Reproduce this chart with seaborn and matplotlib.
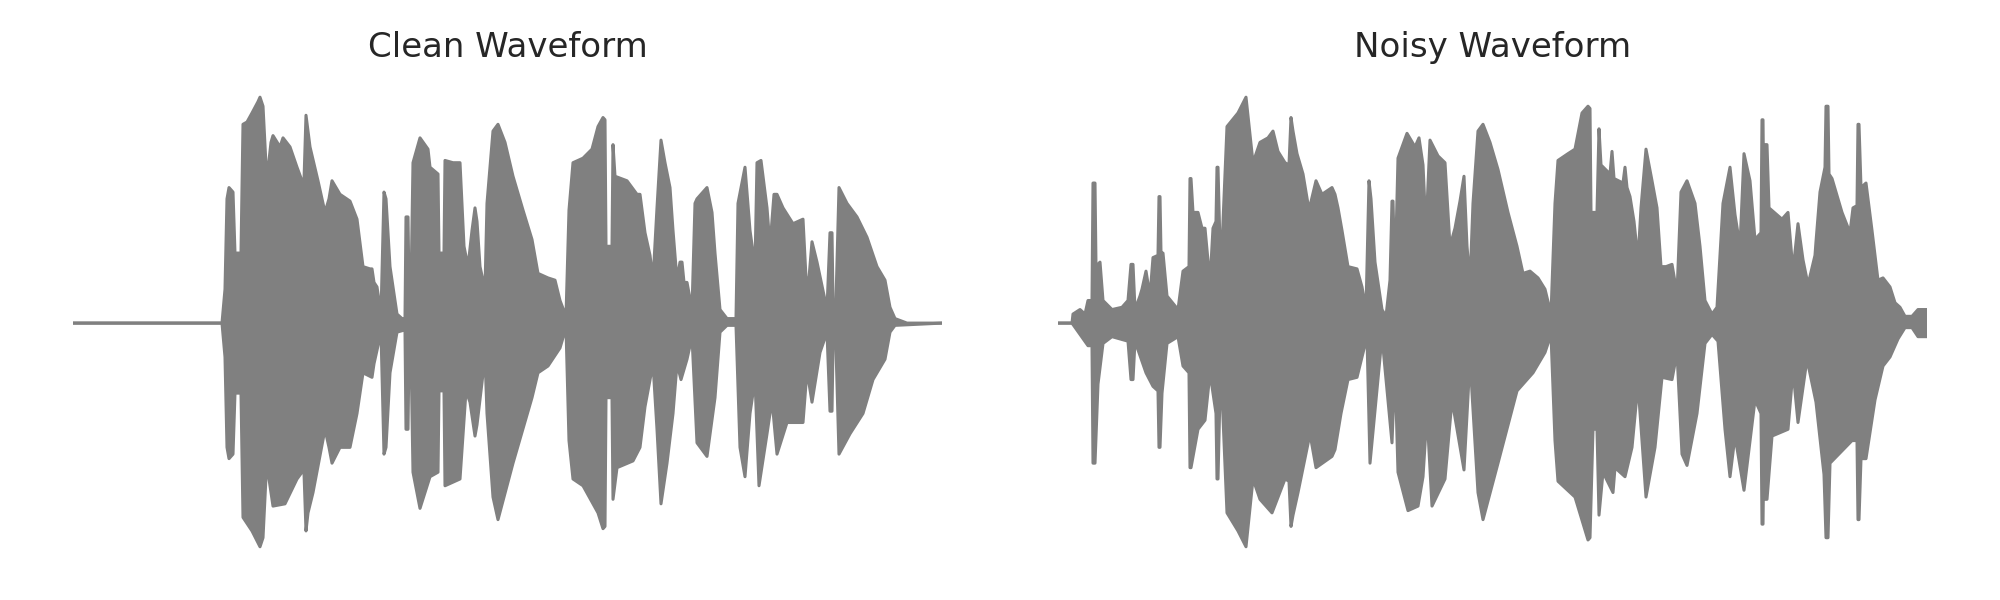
import numpy as np
import pandas as pd
import matplotlib
matplotlib.use("Agg")
import matplotlib.pyplot as plt
import seaborn as sns

# envelope of each waveform: (frame, amplitude)
clean_upper = [
    (0, 0.0), (149, 0.0), (152, 0.15), (154, 0.55), (156, 0.60), (160, 0.58), (162, 0.31),
    (168, 0.31), (170, 0.88), (174, 0.89), (179, 0.93), (185, 0.98), (187, 1.0), (190, 0.96),
    (193, 0.70), (195, 0.68), (198, 0.80), (200, 0.83), (207, 0.78), (210, 0.82), (217, 0.78),
    (224, 0.69), (229, 0.63), (231, 0.63), (233, 0.92), (235, 0.85), (237, 0.78), (245, 0.63),
    (252, 0.49), (256, 0.55), (259, 0.63), (267, 0.57), (277, 0.54), (284, 0.46), (290, 0.25),
    (297, 0.24), (299, 0.24), (301, 0.18), (304, 0.16), (308, 0.04), (311, 0.58), (313, 0.55),
    (317, 0.25), (324, 0.04), (329, 0.02), (332, 0.02), (333, 0.47), (335, 0.47), (336, 0.15),
    (338, 0.15), (340, 0.71), (347, 0.82), (355, 0.77), (357, 0.69), (365, 0.66), (366, 0.31),
    (371, 0.31), (372, 0.72), (380, 0.71), (387, 0.71), (391, 0.34), (395, 0.25), (399, 0.41),
    (402, 0.51), (404, 0.45), (407, 0.25), (412, 0.15), (414, 0.53), (420, 0.85), (425, 0.88),
    (432, 0.80), (440, 0.65), (450, 0.50), (459, 0.37), (465, 0.22), (475, 0.20), (482, 0.19),
    (487, 0.10), (493, 0.03), (496, 0.50), (500, 0.71), (510, 0.73), (519, 0.77), (525, 0.87),
    (530, 0.91), (532, 0.90), (533, 0.34), (539, 0.34), (540, 0.79), (542, 0.65), (554, 0.63),
    (564, 0.57), (567, 0.57), (572, 0.40), (577, 0.30), (580, 0.19), (584, 0.51), (588, 0.81),
    (592, 0.71), (597, 0.60), (600, 0.41), (604, 0.19), (607, 0.27), (609, 0.27), (611, 0.18),
    (614, 0.18), (619, 0.06), (622, 0.53), (624, 0.55), (634, 0.60), (639, 0.49), (642, 0.31),
    (647, 0.06), (654, 0.02), (663, 0.02), (665, 0.53), (672, 0.69), (677, 0.41), (682, 0.25),
    (684, 0.71), (688, 0.72), (694, 0.51), (697, 0.34), (701, 0.57), (704, 0.57), (710, 0.51),
    (720, 0.44), (730, 0.46), (733, 0.20), (736, 0.20), (739, 0.36), (744, 0.27), (754, 0.06),
    (757, 0.40), (759, 0.40), (760, 0.10), (763, 0.10), (766, 0.60), (774, 0.53), (784, 0.47),
    (794, 0.38), (804, 0.25), (812, 0.19), (817, 0.07), (822, 0.02), (834, 0.0), (869, 0.0),
]
clean_lower = [
    (0, 0.0), (149, 0.0), (152, -0.15), (154, -0.55), (156, -0.60), (160, -0.58), (162, -0.31),
    (168, -0.31), (170, -0.86), (179, -0.92), (187, -0.99), (190, -0.95), (193, -0.68),
    (195, -0.66), (200, -0.81), (212, -0.80), (224, -0.69), (229, -0.66), (231, -0.66),
    (233, -0.92), (235, -0.84), (240, -0.75), (252, -0.47), (256, -0.55), (259, -0.62),
    (267, -0.55), (277, -0.55), (284, -0.40), (290, -0.22), (299, -0.24), (301, -0.18),
    (308, -0.04), (311, -0.58), (313, -0.55), (317, -0.22), (324, -0.04), (332, -0.03),
    (333, -0.47), (335, -0.47), (336, -0.13), (338, -0.13), (340, -0.66), (347, -0.82),
    (357, -0.68), (365, -0.66), (366, -0.30), (371, -0.30), (372, -0.72), (387, -0.69),
    (393, -0.30), (397, -0.35), (402, -0.50), (404, -0.45), (412, -0.15), (414, -0.40),
    (420, -0.77), (425, -0.87), (440, -0.62), (459, -0.33), (465, -0.22), (475, -0.19),
    (487, -0.11), (493, -0.02), (496, -0.52), (500, -0.69), (510, -0.72), (525, -0.84),
    (530, -0.91), (532, -0.90), (533, -0.33), (539, -0.33), (540, -0.78), (544, -0.64),
    (560, -0.61), (567, -0.55), (572, -0.37), (580, -0.18), (584, -0.47), (588, -0.80),
    (594, -0.62), (600, -0.40), (604, -0.18), (608, -0.25), (614, -0.16), (619, -0.06),
    (624, -0.53), (634, -0.59), (642, -0.33), (647, -0.04), (654, -0.01), (663, -0.01),
    (667, -0.55), (672, -0.68), (677, -0.40), (682, -0.25), (686, -0.72), (694, -0.49),
    (699, -0.34), (704, -0.58), (714, -0.44), (730, -0.44), (734, -0.21), (739, -0.35),
    (747, -0.13), (754, -0.04), (757, -0.39), (759, -0.39), (760, -0.11), (763, -0.11),
    (766, -0.58), (777, -0.49), (790, -0.40), (800, -0.25), (812, -0.16), (817, -0.04),
    (822, -0.01), (869, 0.0),
]
noisy_upper = [
    (0, 0.0), (14, 0.0), (15, 0.04), (22, 0.06), (27, 0.04), (30, 0.10), (34, 0.10), (35, 0.62),
    (37, 0.62), (38, 0.25), (42, 0.27), (45, 0.10), (54, 0.06), (64, 0.07), (70, 0.10),
    (73, 0.26), (75, 0.26), (77, 0.06), (82, 0.12), (84, 0.15), (88, 0.23), (92, 0.12),
    (95, 0.29), (100, 0.30), (101, 0.56), (102, 0.56), (103, 0.31), (105, 0.31), (109, 0.12),
    (120, 0.06), (125, 0.23), (131, 0.25), (132, 0.64), (133, 0.64), (135, 0.49), (140, 0.49),
    (144, 0.42), (147, 0.42), (152, 0.18), (155, 0.42), (158, 0.45), (159, 0.69), (160, 0.69),
    (162, 0.34), (164, 0.34), (169, 0.87), (180, 0.93), (188, 1.0), (195, 0.71), (202, 0.80),
    (210, 0.82), (215, 0.85), (220, 0.76), (227, 0.71), (231, 0.70), (233, 0.91), (235, 0.85),
    (239, 0.75), (245, 0.66), (251, 0.50), (258, 0.63), (264, 0.57), (274, 0.60), (277, 0.57),
    (280, 0.51), (284, 0.41), (290, 0.25), (299, 0.24), (304, 0.16), (308, 0.06), (311, 0.63),
    (313, 0.55), (317, 0.27), (324, 0.06), (328, 0.03), (332, 0.19), (334, 0.54), (335, 0.54),
    (337, 0.19), (340, 0.73), (349, 0.84), (357, 0.78), (361, 0.82), (365, 0.70), (368, 0.41),
    (372, 0.81), (380, 0.74), (387, 0.71), (392, 0.34), (397, 0.42), (402, 0.54), (406, 0.65),
    (409, 0.34), (412, 0.18), (415, 0.53), (420, 0.85), (425, 0.88), (432, 0.80), (440, 0.68),
    (450, 0.49), (459, 0.34), (465, 0.22), (472, 0.23), (480, 0.20), (487, 0.15), (493, 0.04),
    (497, 0.53), (500, 0.72), (510, 0.75), (517, 0.77), (524, 0.93), (530, 0.96), (532, 0.95),
    (533, 0.49), (539, 0.49), (541, 0.86), (543, 0.70), (552, 0.66), (554, 0.76), (556, 0.64),
    (565, 0.62), (567, 0.69), (569, 0.60), (572, 0.56), (576, 0.45), (580, 0.28), (583, 0.51),
    (588, 0.77), (594, 0.63), (599, 0.51), (603, 0.25), (608, 0.25), (614, 0.26), (619, 0.13),
    (623, 0.58), (629, 0.63), (637, 0.53), (642, 0.34), (647, 0.10), (654, 0.04), (659, 0.07),
    (665, 0.53), (672, 0.69), (677, 0.48), (682, 0.34), (686, 0.75), (692, 0.63), (697, 0.37),
    (703, 0.40), (704, 0.90), (705, 0.90), (706, 0.45), (707, 0.79), (709, 0.79), (711, 0.51),
    (724, 0.46), (730, 0.49), (735, 0.23), (740, 0.44), (745, 0.28), (750, 0.17), (757, 0.30),
    (758, 0.36), (762, 0.58), (767, 0.69), (768, 0.96), (770, 0.96), (771, 0.66), (774, 0.64),
    (784, 0.49), (792, 0.40), (795, 0.51), (799, 0.52), (800, 0.88), (801, 0.88), (803, 0.60),
    (808, 0.62), (814, 0.41), (820, 0.19), (825, 0.20), (832, 0.16), (837, 0.09), (842, 0.07),
    (847, 0.03), (854, 0.03), (860, 0.06), (869, 0.06),
]
noisy_lower = [
    (0, 0.0), (14, 0.0), (22, -0.05), (30, -0.10), (34, -0.10), (35, -0.62), (37, -0.62),
    (40, -0.27), (45, -0.09), (54, -0.06), (70, -0.08), (73, -0.25), (75, -0.25), (77, -0.08),
    (88, -0.22), (95, -0.28), (100, -0.30), (101, -0.55), (102, -0.55), (104, -0.31),
    (109, -0.09), (120, -0.06), (125, -0.19), (131, -0.22), (132, -0.64), (133, -0.64),
    (140, -0.47), (147, -0.43), (152, -0.22), (158, -0.40), (159, -0.69), (160, -0.69),
    (162, -0.31), (164, -0.31), (169, -0.84), (180, -0.92), (188, -0.99), (195, -0.69),
    (202, -0.78), (214, -0.84), (227, -0.69), (231, -0.70), (233, -0.90), (235, -0.85),
    (240, -0.75), (252, -0.49), (258, -0.64), (274, -0.59), (277, -0.56), (283, -0.40),
    (290, -0.25), (299, -0.24), (309, -0.06), (312, -0.62), (324, -0.06), (334, -0.53),
    (337, -0.19), (340, -0.66), (350, -0.83), (360, -0.81), (365, -0.68), (369, -0.40),
    (374, -0.81), (387, -0.69), (394, -0.34), (406, -0.65), (412, -0.16), (420, -0.75),
    (425, -0.87), (440, -0.62), (459, -0.30), (475, -0.22), (487, -0.13), (493, -0.05),
    (497, -0.52), (500, -0.70), (517, -0.77), (530, -0.96), (532, -0.95), (535, -0.47),
    (539, -0.47), (541, -0.85), (545, -0.66), (555, -0.75), (557, -0.64), (567, -0.68),
    (574, -0.55), (580, -0.27), (588, -0.77), (597, -0.55), (604, -0.24), (614, -0.25),
    (619, -0.13), (624, -0.58), (629, -0.63), (639, -0.40), (647, -0.09), (654, -0.05),
    (660, -0.08), (667, -0.47), (672, -0.68), (677, -0.50), (686, -0.74), (697, -0.34),
    (703, -0.40), (704, -0.89), (705, -0.89), (706, -0.50), (707, -0.78), (709, -0.78),
    (714, -0.50), (730, -0.47), (735, -0.21), (740, -0.44), (749, -0.16), (758, -0.35),
    (766, -0.67), (768, -0.95), (770, -0.95), (772, -0.62), (794, -0.52), (799, -0.52),
    (800, -0.87), (801, -0.87), (803, -0.60), (808, -0.60), (817, -0.34), (825, -0.19),
    (832, -0.15), (840, -0.07), (847, -0.02), (854, -0.02), (860, -0.06), (869, -0.06),
]
titles = ["Clean Waveform", "Noisy Waveform"]

GRAY = "#808080"
N_FRAMES = 869

sns.set_style("white")


def draw_wave(ax, upper, lower, title):
    up = pd.DataFrame(upper, columns=["frame", "amp"])
    lo = pd.DataFrame(lower, columns=["frame", "amp"])
    xs = np.concatenate([up["frame"].values, lo["frame"].values[::-1]])
    ys = np.concatenate([up["amp"].values, lo["amp"].values[::-1]])
    ax.fill(xs, ys, color=GRAY, lw=0)
    for df in (up, lo):
        sns.lineplot(data=df, x="frame", y="amp", color=GRAY, linewidth=2.2,
                     estimator=None, sort=False, ax=ax, solid_capstyle="round")
    ax.set_xlim(0, N_FRAMES)
    ax.set_ylim(-1.1, 1.1)
    ax.axis("off")
    ax.set_title(title, fontsize=24.5, pad=13)


fig = plt.figure(figsize=(20, 6), dpi=100)
ax1 = fig.add_axes([73 / 2000, 28.4 / 600, 869 / 2000, 497 / 600])
ax2 = fig.add_axes([1058 / 2000, 28.4 / 600, 869 / 2000, 497 / 600])

draw_wave(ax1, clean_upper, clean_lower, titles[0])
draw_wave(ax2, noisy_upper, noisy_lower, titles[1])

fig.savefig("out.png", dpi=100)
